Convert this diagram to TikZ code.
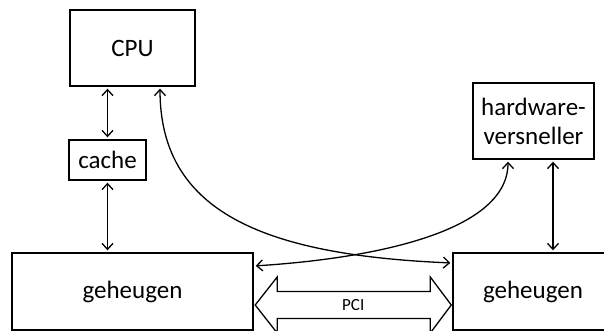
\documentclass[tikz,border=0pt]{standalone}
\usepackage{fontspec}
\setmainfont{Carlito}
\usetikzlibrary{arrows.meta,calc}
\begin{document}
\begin{tikzpicture}[x=1pt,y=-1pt,
  box/.style={draw,line width=1.4pt,inner sep=0pt,align=center,
    font=\fontsize{25}{29}\selectfont},
  link/.style={line width=1.3pt,{Straight Barb[length=6pt,width=11pt]}-{Straight Barb[length=6pt,width=11pt]},
    shorten <=2pt,shorten >=2pt}]
  \useasboundingbox (0,0) rectangle (604,331);
  \clip (0,0) rectangle (604,331);
  % boxes
  \node[box,minimum width=125pt,minimum height=76pt] (cpu) at (132.5,48) {CPU};
  \node[box,minimum width=77pt,minimum height=40pt] (cache) at (107.5,160) {cache};
  \node[box,minimum width=241pt,minimum height=77pt] (gl) at (132.5,291.5) {geheugen};
  \node[box,minimum width=160pt,minimum height=77pt] (gr) at (533,291.5) {geheugen};
  \node[box,minimum width=121pt,minimum height=76pt] (hw) at (533.5,121) {hardware-\\versneller};
  % straight links
  \draw[link] (cache.north |- cpu.south) -- (cache.north);
  \draw[link] (cache.south) -- (cache.south |- gl.north);
  \coordinate (hwb) at ([xshift=19.5pt]hw.south);
  \draw[link] (hwb) -- (hwb |- gr.north);
  % curved links
  \draw[link] ([xshift=27.5pt]cpu.south) .. controls (160,210) and (260,255) .. ([yshift=28.5pt]gr.west);
  \draw[link] ([yshift=25.5pt]gl.east) .. controls (380,258) and (508,230) .. ([xshift=-25.5pt]hw.south);
  % PCI bus
  \coordinate (pl) at ($(gl.east)+(1.5,13.5)$);
  \coordinate (pr) at ($(gr.west)+(-1,13.5)$);
  \draw[line width=1.3pt,line join=miter]
    (pl) -- ++(22,-28) -- ++(0,14.5) -- ($(pr)+(-21,-13.5)$) -- ++(0,-14.5) -- (pr)
    -- ++(-21,28) -- ++(0,-14.5) -- ($(pl)+(22,13.5)$) -- ++(0,14.5) -- cycle;
  \node[font=\fontsize{17}{20}\selectfont] (pci) at ($(pl)!0.5!(pr)$) {PCI};
\end{tikzpicture}
\end{document}
